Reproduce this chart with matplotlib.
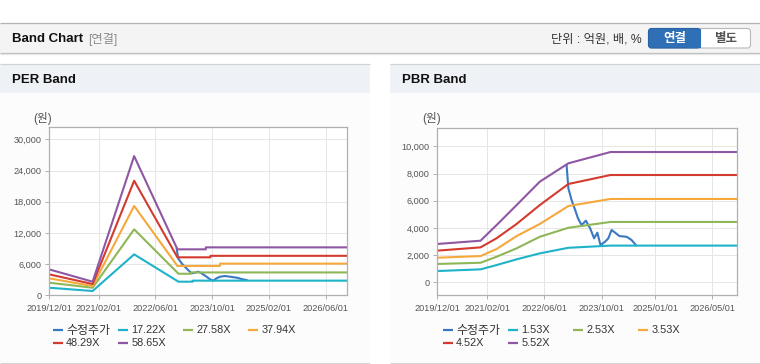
import matplotlib
matplotlib.use("Agg")
import matplotlib.pyplot as plt
from matplotlib.patches import Rectangle, FancyBboxPatch
from matplotlib.ticker import FuncFormatter

W, H = 760, 364
plt.rcParams["font.family"] = ["Liberation Sans", "Noto Sans CJK KR", "DejaVu Sans"]

# ---------------------------------------------------------------------------
# Data (x = months since 2019/12/01)
# ---------------------------------------------------------------------------
per_tick_pos = [0, 14, 30, 46, 62, 78]
per_tick_labels = ["2019/12/01", "2021/02/01", "2022/06/01", "2023/10/01", "2025/02/01", "2026/06/01"]
pbr_tick_pos = [0, 14, 30, 46, 61, 77]
pbr_tick_labels = ["2019/12/01", "2021/02/01", "2022/06/01", "2023/10/01", "2025/01/01", "2026/05/01"]

per_labels = ["수정주가", "17.22X", "27.58X", "37.94X", "48.29X", "58.65X"]
pbr_labels = ["수정주가", "1.53X", "2.53X", "3.53X", "4.52X", "5.52X"]
colors = ["#3a78c3", "#1eb3c9", "#8fb657", "#f5a83b", "#d33b2f", "#8f57a3"]

# PER band
per_price_x = [36.0, 36.4, 37.4, 38.3, 39.2, 40.2, 41.1, 42.1, 43.0, 44.4, 45.4,
               46.3, 47.2, 48.2, 49.6, 51.0, 52.9, 54.3, 55.7]
per_price_y = [9000, 7110, 6150, 5500, 4870, 4230, 4350, 4540, 4230, 3580, 3080,
               2810, 3270, 3580, 3710, 3580, 3390, 3130, 2940]
per_1722_x = [0, 12.3, 24.0, 36.5, 40.5, 40.5, 84]
per_1722_y = [1460, 830, 7880, 2620, 2620, 2820, 2820]
per_2758_x = [0, 12.3, 24.0, 36.5, 40.0, 40.0, 84]
per_2758_y = [2430, 1460, 12700, 4150, 4150, 4400, 4400]
per_3794_x = [0, 12.3, 24.0, 36.2, 48.2, 48.2, 84]
per_3794_y = [3270, 1790, 17200, 5650, 5650, 6100, 6100]
per_4829_x = [0, 12.3, 24.0, 36.2, 45.5, 45.5, 84]
per_4829_y = [4040, 2170, 22050, 7310, 7310, 7600, 7600]
per_5865_x = [0, 12.3, 24.0, 36.2, 44.2, 44.2, 84]
per_5865_y = [5000, 2620, 26800, 8850, 8850, 9230, 9230]

# PBR band
pbr_price_x = [36.2, 36.7, 37.6, 38.6, 39.4, 40.4, 41.6, 42.8, 43.9, 44.8, 45.7,
               47.0, 47.9, 48.8, 49.8, 51.0, 53.0, 54.4, 55.6]
pbr_price_y = [8630, 6910, 6050, 5320, 4700, 4210, 4530, 3970, 3240, 3650, 2740,
               2990, 3240, 3850, 3650, 3400, 3350, 3110, 2740]
pbr_band_x = [0, 12.1, 16.6, 22.2, 28.7, 36.7, 48.5, 84]
pbr_153_y = [830, 955, 1270, 1690, 2130, 2540, 2700, 2700]
pbr_253_y = [1350, 1440, 1880, 2500, 3350, 4010, 4440, 4440]
pbr_353_y = [1810, 1930, 2450, 3400, 4290, 5610, 6130, 6130]
pbr_452_y = [2330, 2570, 3240, 4290, 5680, 7230, 7890, 7890]
pbr_552_y = [2820, 3060, 4210, 5680, 7400, 8750, 9580, 9580]

per_series = [
    (per_price_x, per_price_y), (per_1722_x, per_1722_y), (per_2758_x, per_2758_y),
    (per_3794_x, per_3794_y), (per_4829_x, per_4829_y), (per_5865_x, per_5865_y),
]
pbr_series = [
    (pbr_price_x, pbr_price_y), (pbr_band_x, pbr_153_y), (pbr_band_x, pbr_253_y),
    (pbr_band_x, pbr_353_y), (pbr_band_x, pbr_452_y), (pbr_band_x, pbr_552_y),
]


# ---------------------------------------------------------------------------
# Helpers
# ---------------------------------------------------------------------------
def px_axes(fig, left, top, right, bottom):
    return fig.add_axes([left / W, 1 - bottom / H, (right - left) / W, (bottom - top) / H])


def style_chart(ax, yticks, ylim, xticks, xlabels):
    ax.set_facecolor("white")
    ax.set_xlim(0, 84)
    ax.set_ylim(*ylim)
    ax.set_xticks(xticks)
    ax.set_xticklabels(xlabels)
    ax.set_yticks(yticks)
    ax.yaxis.set_major_formatter(FuncFormatter(lambda v, _: f"{int(v):,}"))
    ax.grid(True, color="#e6e6e6", lw=0.7)
    ax.set_axisbelow(True)
    for sp in ax.spines.values():
        sp.set_color("#b0b0b0")
        sp.set_linewidth(0.9)
    ax.tick_params(labelsize=6.6, labelcolor="#555555", color="#b0b0b0",
                   length=3, width=0.7)
    ax.tick_params(axis="x", pad=3.5)
    ax.tick_params(axis="y", pad=2.5)


def draw_legend(bg, x0, labels):
    for i, (label, color) in enumerate(zip(labels, colors)):
        lx = x0 + (i % 4) * 65
        ly = 330 + (i // 4) * 13.3
        size = 8.6 if i == 0 else 7.8
        bg.plot([lx, lx + 10.5], [ly, ly], color=color, lw=1.6, solid_capstyle="butt")
        bg.text(lx + 13.5, ly + (0.6 if i == 0 else 0), label, va="center", ha="left",
                fontsize=size, color="#333333")


# ---------------------------------------------------------------------------
# Figure
# ---------------------------------------------------------------------------
fig = plt.figure(figsize=(W / 100, H / 100), dpi=100)
fig.patch.set_facecolor("white")

bg = fig.add_axes([0, 0, 1, 1], zorder=0)
bg.set_xlim(0, W)
bg.set_ylim(H, 0)
bg.axis("off")

# ── top header bar ──────────────────────────────────────────────────────────
bg.add_patch(Rectangle((0, 22.5), W, 30.5, fc="#f4f4f4", ec="none"))
bg.hlines(22.5, 0, W, color="#b4b4b4", lw=0.9)
bg.hlines(53.0, 0, W, color="#bcbcbc", lw=0.9)
bg.hlines(54.2, 0, W, color="#e6e6e6", lw=0.9)
bg.text(12, 38.5, "Band Chart", fontsize=9.5, weight="bold", va="center", color="#111111")
bg.text(88, 39, "[연결]", fontsize=8.8, va="center", color="#8a8a8a")
bg.text(641.5, 39, "단위 : 억원, 배, %", fontsize=8.8, va="center", ha="right", color="#333333")

# buttons
bg.add_patch(FancyBboxPatch((648.5, 28.5), 102, 19.5, boxstyle="round,pad=0,rounding_size=3",
                            fc="white", ec="#b8b8b8", lw=0.8))
bg.add_patch(FancyBboxPatch((648.5, 28.5), 52, 19.5, boxstyle="round,pad=0,rounding_size=3",
                            fc="#2f6fb5", ec="#2a63a4", lw=0.8))
bg.add_patch(Rectangle((690, 28.5), 10.7, 19.5, fc="#2f6fb5", ec="none"))
bg.text(674.5, 39.3, "연결", fontsize=9, weight="bold", ha="center", va="center", color="white")
bg.text(725.7, 39.3, "별도", fontsize=9, weight="bold", ha="center", va="center", color="#555555")

# ── panels ──────────────────────────────────────────────────────────────────
for (x0, x1), title in zip([(0, 370), (390, W)], ["PER Band", "PBR Band"]):
    bg.add_patch(Rectangle((x0, 64), x1 - x0, 29, fc="#eef2f7", ec="none"))
    bg.add_patch(Rectangle((x0, 93), x1 - x0, 269, fc="#fcfcfc", ec="none"))
    bg.hlines(64, x0, x1, color="#d2d2d2", lw=0.9)
    bg.hlines(362.5, x0, x1, color="#d6d6d6", lw=0.9)
    bg.text(x0 + 12, 80, title, fontsize=9.5, weight="bold", va="center", color="#111111")

bg.text(43, 118.5, "(원)", fontsize=8.4, ha="center", va="center", color="#555555")
bg.text(431.7, 118.5, "(원)", fontsize=8.4, ha="center", va="center", color="#555555")

# ── PER chart ───────────────────────────────────────────────────────────────
ax1 = px_axes(fig, 49, 127, 347, 295.3)
style_chart(ax1, range(0, 30001, 6000), (0, 32400), per_tick_pos, per_tick_labels)
for (xs, ys), color in zip(per_series, colors):
    ax1.plot(xs, ys, color=color, lw=1.5)

# ── PBR chart ───────────────────────────────────────────────────────────────
ax2 = px_axes(fig, 437.3, 128.3, 737.3, 295)
style_chart(ax2, range(0, 10001, 2000), (-931, 11324), pbr_tick_pos, pbr_tick_labels)
for (xs, ys), color in zip(pbr_series, colors):
    ax2.plot(xs, ys, color=color, lw=1.5)

# ── legends ─────────────────────────────────────────────────────────────────
draw_legend(bg, 52.7, per_labels)
draw_legend(bg, 442.7, pbr_labels)

fig.savefig("out.png", dpi=100, facecolor=fig.get_facecolor())
